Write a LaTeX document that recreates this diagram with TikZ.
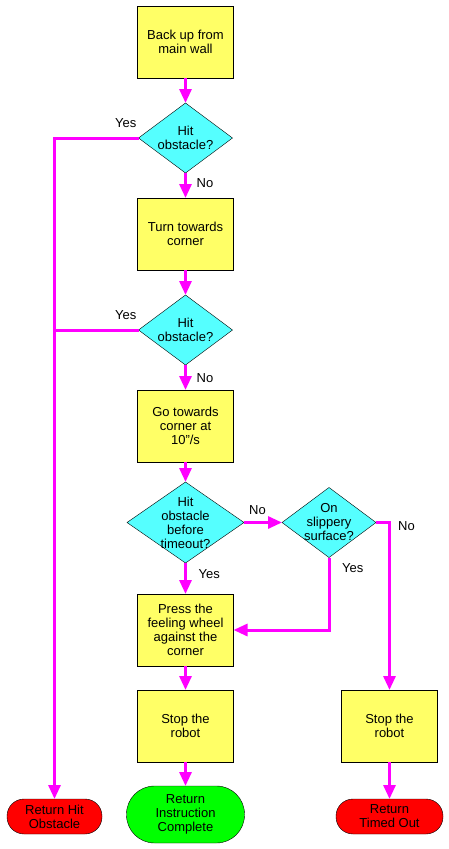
\documentclass[tikz,border=0pt]{standalone}
\usepackage{fontspec}
\setmainfont{Liberation Sans}
\usetikzlibrary{arrows.meta,shapes,positioning}
\definecolor{boxyellow}{RGB}{255,255,102}
\definecolor{askcyan}{RGB}{85,255,255}
\definecolor{flowpink}{RGB}{255,0,255}
\tikzset{
  basic/.style    = {draw, thin, outer sep=0pt, font=\fontsize{13}{14}\selectfont, align=center},
  action/.style   = {basic, rectangle, fill=boxyellow, minimum width=96pt, minimum height=72pt},
  decision/.style = {basic, diamond, fill=askcyan, inner sep=-8pt, minimum width=94pt, minimum height=70pt},
  terminal/.style = {basic, rectangle, rounded corners=17pt, minimum height=35pt, inner sep=0pt},
  answer/.style   = {font=\fontsize{13}{14}\selectfont, inner sep=0pt},
  flow/.style     = {line width=3pt, draw=flowpink, -{Triangle[width=12pt,length=14pt]}},
  flowline/.style = {line width=3pt, draw=flowpink}
}

\begin{document}
\begin{tikzpicture}[x=1pt, y=-1pt, node distance=25pt]
\useasboundingbox (0,0) rectangle (449,849);

% main column, top to bottom
\node[action] (backup) at (185.5,42) {Back up from\\main wall};
\node[decision, below=of backup] (hit1) {Hit\\obstacle?};
\node[action, below=of hit1] (turn) {Turn towards\\corner};
\node[decision, below=of turn] (hit2) {Hit\\obstacle?};
\node[action, below=of hit2] (go) {Go towards\\corner at\\10''/s};
\node[decision, below=20pt of go, minimum width=117pt, minimum height=81pt] (hit3) {Hit\\obstacle\\before\\timeout?};
\node[action, below=31pt of hit3] (press) {Press the\\feeling wheel\\against the\\corner};
\node[action, below=24pt of press] (stop1) {Stop the\\robot};
\node[terminal, fill=green, below=24pt of stop1, minimum width=118pt, minimum height=57pt, rounded corners=28pt] (done) {Return\\Instruction\\Complete};

% side branches
\node[decision, right=38pt of hit3] (slip) {On\\slippery\\surface?};
\node[action, right=108pt of stop1] (stop2) {Stop the\\robot};
\node[terminal, fill=red, below=37pt of stop2, minimum width=107pt] (timeout) {Return\\Timed Out};
\node[terminal, fill=red, minimum width=95pt] (hitret) at (54.5,816.5) {Return Hit\\Obstacle};

% branch labels
\node[answer, above left=10pt and 2pt of hit1.west] (yes1) {Yes};
\node[answer, below right=5pt and 11pt of hit1.south] (no1) {No};
\node[answer, above left=10pt and 2pt of hit2.west] (yes2) {Yes};
\node[answer, below right=8pt and 11pt of hit2.south] (no2) {No};
\node[answer, above right=8pt and 5pt of hit3.east] (no3) {No};
\node[answer, below right=6pt and 13pt of hit3.south] (yes3) {Yes};
\node[answer, below right=6pt and 13pt of slip.south] (yes4) {Yes};
\node[answer, below right=-1pt and 22pt of slip.east] (no4) {No};

% connectors
\draw[flow] (backup) -- (hit1);
\draw[flow] (hit1) -- (turn);
\draw[flow] (turn) -- (hit2);
\draw[flow] (hit2) -- (go);
\draw[flow] (go) -- (hit3);
\draw[flow] (hit3) -- (press);
\draw[flow] (press) -- (stop1);
\draw[flow] (stop1) -- (done);
\draw[flow] (hit3) -- (slip);
\draw[flow] (slip.south) |- (press.east);
\draw[flow] (slip.east) -| (stop2.north);
\draw[flow] (stop2) -- (timeout);
\draw[flow] (hit1.west) -| (hitret.north);
\draw[flowline] (hit2.west) -- (hit2.west -| hitret.north);
\end{tikzpicture}
\end{document}
